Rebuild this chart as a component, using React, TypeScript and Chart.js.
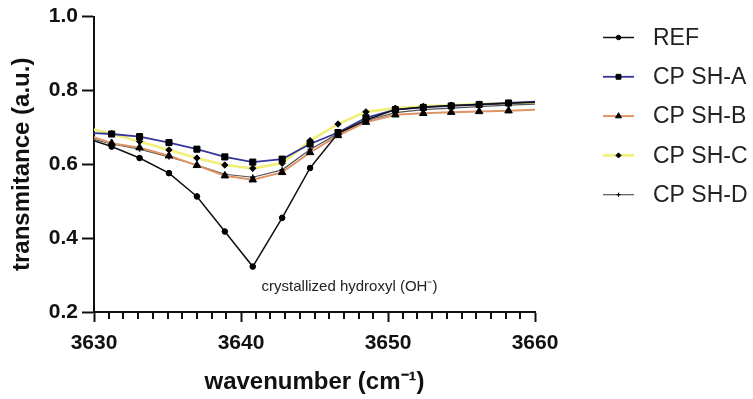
import React, { useEffect, useRef } from "react";
import { Chart, registerables } from "chart.js";

Chart.register(...registerables);

// ---- data ----
const wavenumbers = [3629.3, 3631.2, 3633.1, 3635.1, 3637.0, 3638.9, 3640.8, 3642.8, 3644.7, 3646.6, 3648.5, 3650.5, 3652.4, 3654.3, 3656.2, 3658.2, 3660.1];
const seriesNames = ["REF", "CP SH-A", "CP SH-B", "CP SH-C", "CP SH-D"];
const refValues = [0.673, 0.648, 0.617, 0.576, 0.513, 0.418, 0.323, 0.455, 0.590, 0.684, 0.720, 0.748, 0.755, 0.759, 0.762, 0.765, 0.768];
const shAValues = [0.686, 0.682, 0.675, 0.659, 0.641, 0.620, 0.606, 0.614, 0.655, 0.686, 0.726, 0.748, 0.754, 0.758, 0.762, 0.766, 0.770];
const shBValues = [0.682, 0.657, 0.645, 0.623, 0.597, 0.569, 0.558, 0.578, 0.632, 0.678, 0.714, 0.734, 0.738, 0.741, 0.743, 0.745, 0.748];
const shCValues = [0.700, 0.683, 0.662, 0.639, 0.617, 0.598, 0.589, 0.603, 0.664, 0.709, 0.742, 0.752, 0.757, 0.760, 0.763, 0.766, 0.768];
const shDValues = [0.675, 0.655, 0.641, 0.620, 0.598, 0.573, 0.565, 0.585, 0.640, 0.683, 0.718, 0.740, 0.748, 0.752, 0.756, 0.760, 0.763];
const allSeries = [refValues, shAValues, shBValues, shCValues, shDValues];

const xTitle = "wavenumber (cm\u207B\u00B9)";
const yTitle = "transmitance (a.u.)";
const annotationText = "crystallized hydroxyl (OH\u207B)";
const annotationX = 3641.4;
const annotationY = 0.268;

// ---- styles ----
const lineColors = ["#111111", "#35359a", "#de9466", "#f0ef78", "#555555"];
const lineWidths = [1.5, 1.8, 2, 2.6, 1.2];
const markerStyles = ["circle", "rect", "triangle", "rectRot", "cross"];
const markerRadii = [2.8, 4.3, 4.3, 3.2, 2.6];
const drawOrder = [1, 2, 3, 5, 4];

const FONT = '"Liberation Sans", Arial, Helvetica, sans-serif';
const X_MIN = 3630;
const X_MAX = 3660;

function drawMarker(ctx: CanvasRenderingContext2D, style: string, x: number, y: number, r: number) {
  ctx.beginPath();
  if (style === "circle") {
    ctx.arc(x, y, r, 0, Math.PI * 2);
  } else if (style === "rect") {
    const s = r * Math.SQRT1_2;
    ctx.rect(x - s, y - s, 2 * s, 2 * s);
  } else if (style === "triangle") {
    ctx.moveTo(x, y - r);
    ctx.lineTo(x + r * 0.866, y + r * 0.5);
    ctx.lineTo(x - r * 0.866, y + r * 0.5);
    ctx.closePath();
  } else if (style === "rectRot") {
    ctx.moveTo(x, y - r);
    ctx.lineTo(x + r, y);
    ctx.lineTo(x, y + r);
    ctx.lineTo(x - r, y);
    ctx.closePath();
  } else if (style === "cross") {
    ctx.moveTo(x, y - r);
    ctx.lineTo(x, y + r);
    ctx.moveTo(x - r, y);
    ctx.lineTo(x + r, y);
  }
  if (style !== "cross") ctx.fill();
  ctx.stroke();
}

const minorTicksPlugin = {
  id: "minorTicks",
  afterDraw(chart: any) {
    const { ctx, scales, chartArea } = chart;
    const x = scales.x;
    ctx.save();
    ctx.strokeStyle = "#111";
    ctx.lineWidth = 2;
    for (let v = X_MIN + 1; v < X_MAX; v++) {
      if (v % 10 === 0) continue;
      const px = Math.round(x.getPixelForValue(v));
      ctx.beginPath();
      ctx.moveTo(px, chartArea.bottom);
      ctx.lineTo(px, chartArea.bottom + 7);
      ctx.stroke();
    }
    ctx.restore();
  },
};

const annotationPlugin = {
  id: "annot",
  afterDatasetsDraw(chart: any) {
    const { ctx, scales } = chart;
    ctx.save();
    ctx.font = `15px ${FONT}`;
    ctx.fillStyle = "#222";
    ctx.textAlign = "left";
    ctx.textBaseline = "middle";
    ctx.fillText(annotationText, scales.x.getPixelForValue(annotationX), scales.y.getPixelForValue(annotationY));
    ctx.restore();
  },
};

const legendPlugin = {
  id: "customLegend",
  afterDraw(chart: any) {
    const { ctx } = chart;
    const lx0 = 603, lx1 = 634, tx = 653, y0 = 37.5, dy = 39.3;
    ctx.save();
    chart.data.datasets.forEach((ds: any, i: number) => {
      const y = y0 + i * dy;
      ctx.strokeStyle = ds.borderColor;
      ctx.lineWidth = ds.borderWidth;
      ctx.beginPath();
      ctx.moveTo(lx0, y);
      ctx.lineTo(lx1, y);
      ctx.stroke();
      ctx.fillStyle = "#000";
      ctx.strokeStyle = "#000";
      ctx.lineWidth = 1;
      drawMarker(ctx, markerStyles[i], (lx0 + lx1) / 2, y, markerRadii[i] * 0.8);
      ctx.fillStyle = "#222";
      ctx.font = `23px ${FONT}`;
      ctx.textAlign = "left";
      ctx.textBaseline = "middle";
      ctx.fillText(ds.label, tx, y + 1);
    });
    ctx.restore();
  },
};

export default function App() {
  const canvasRef = useRef<HTMLCanvasElement | null>(null);

  useEffect(() => {
    document.body.style.margin = "0";
    const canvas = canvasRef.current;
    if (!canvas) return;

    const datasets = seriesNames.map((name, i) => ({
      label: name,
      data: wavenumbers.map((w, j) => ({ x: w, y: allSeries[i][j] })),
      borderColor: lineColors[i],
      borderWidth: lineWidths[i],
      backgroundColor: "#000",
      pointBackgroundColor: "#000",
      pointBorderColor: "#000",
      pointBorderWidth: markerStyles[i] === "cross" ? 1.5 : 1,
      pointStyle: markerStyles[i],
      pointRadius: (c: any) => {
        const raw = c.raw;
        if (!raw || raw.x < X_MIN || raw.x > X_MAX) return 0;
        return markerRadii[i];
      },
      tension: 0,
      fill: false,
      order: drawOrder[i],
      clip: 0,
    }));

    const chart = new Chart(canvas, {
      type: "line",
      data: { datasets } as any,
      options: {
        animation: false,
        responsive: true,
        maintainAspectRatio: false,
        layout: { padding: { left: 0, right: 218, top: 16, bottom: 1 } },
        plugins: {
          legend: { display: false },
          tooltip: { enabled: false },
        },
        scales: {
          x: {
            type: "linear",
            min: X_MIN,
            max: X_MAX,
            afterFit: (s: any) => {
              s.height = 86;
            },
            ticks: {
              stepSize: 10,
              color: "#111",
              padding: 9,
              font: { family: FONT, size: 21, weight: "bold" },
              callback: (v: any) => String(v),
              maxRotation: 0,
            },
            grid: {
              display: true,
              drawOnChartArea: false,
              drawTicks: true,
              tickLength: 10,
              tickWidth: 2,
              tickColor: "#111",
            },
            border: { display: true, width: 2, color: "#111" },
            title: {
              display: true,
              text: xTitle,
              color: "#111",
              font: { family: FONT, size: 24, weight: "bold" },
              padding: { top: 0, bottom: 1 },
            },
          },
          y: {
            type: "linear",
            min: 0.2,
            max: 1.0,
            afterFit: (s: any) => {
              s.width = 94;
            },
            ticks: {
              stepSize: 0.2,
              color: "#111",
              padding: 4,
              font: { family: FONT, size: 21, weight: "bold" },
              callback: (v: any) => Number(v).toFixed(1),
            },
            grid: {
              display: true,
              drawOnChartArea: false,
              drawTicks: true,
              tickLength: 12,
              tickWidth: 2,
              tickColor: "#111",
            },
            border: { display: true, width: 2, color: "#111" },
            title: {
              display: true,
              text: yTitle,
              color: "#111",
              font: { family: FONT, size: 24, weight: "bold" },
              padding: { top: 8, bottom: 0 },
            },
          },
        },
      } as any,
      plugins: [minorTicksPlugin, annotationPlugin, legendPlugin],
    });

    return () => {
      chart.destroy();
    };
  }, []);

  return (
    <div style={{ width: 753, height: 399, position: "relative", background: "#fff" }}>
      <canvas ref={canvasRef} />
    </div>
  );
}
